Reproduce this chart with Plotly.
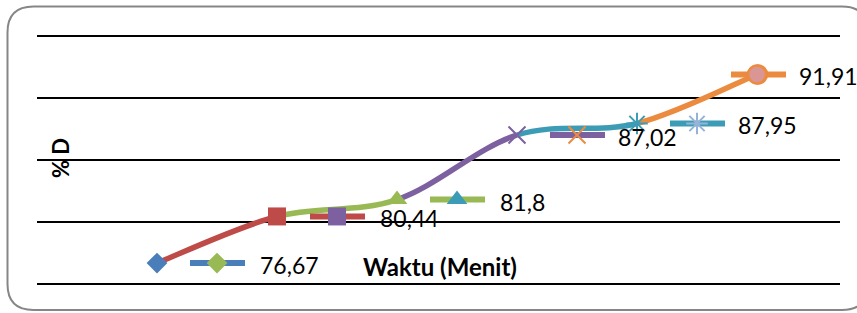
import plotly.graph_objects as go

# ---- data ----
waktu = [1, 2, 3, 4, 5, 6]
persen_d = [76.67, 80.44, 81.8, 87.02, 87.95, 91.91]
label_text = ["76,67", "80,44", "81,8", "87,02", "87,95", "91,91"]
y_ticks = [75, 80, 85, 90, 95]

# ---- styles ----
point_symbols = ["diamond", "square", "triangle-up", "x-thin-open", "asterisk-open", "circle"]
point_colors = ["#4A7EBB", "#BE4B48", "#98B954", "#7D60A0", "#3D9CB5", "#D99694"]
point_sizes = [16, 18, 18, 17, 18, 18]
segment_colors = ["#BE4B48", "#98B954", "#7D60A0", "#3D9CB5", "#EB8B3F"]
key_line_colors = ["#4A7EBB", "#BE4B48", "#98B954", "#7D60A0", "#3D9CB5", "#EB8B3F"]
key_marker_colors = ["#98B954", "#7D60A0", "#3D9CB5", "#EB8B3F", "#95B3D7", "#D99694"]
label_shift_px = [0, 0, 0, 0, 0, -59]
text_shift_px = [101, 101, 101, 99, 99, 40]

W, H = 857, 313
L, R, T, B = 37, 17, 35, 28
Y_RANGE = [74.9, 95.1]
PX_PER_UNIT = 120.0
x_min = waktu[0] - (157 - L) / PX_PER_UNIT
x_max = x_min + (W - L - R) / PX_PER_UNIT

fig = go.Figure()

# smoothed line: Catmull-Rom -> cubic Bezier segments, each coloured separately
n = len(waktu)
shapes = []
for i in range(n - 1):
    p0 = (waktu[max(i - 1, 0)], persen_d[max(i - 1, 0)])
    p1 = (waktu[i], persen_d[i])
    p2 = (waktu[i + 1], persen_d[i + 1])
    p3 = (waktu[min(i + 2, n - 1)], persen_d[min(i + 2, n - 1)])
    c1 = (p1[0] + (p2[0] - p0[0]) / 6, p1[1] + (p2[1] - p0[1]) / 6)
    c2 = (p2[0] - (p3[0] - p1[0]) / 6, p2[1] - (p3[1] - p1[1]) / 6)
    path = f"M {p1[0]},{p1[1]} C {c1[0]},{c1[1]} {c2[0]},{c2[1]} {p2[0]},{p2[1]}"
    shapes.append(dict(type="path", xref="x", yref="y", path=path,
                       line=dict(color=segment_colors[i], width=5.5), layer="between"))

# rounded chart border (pixel positions converted to paper coords)
def px2paper(px, py):
    return (px - L) / (W - L - R), (H - B - py) / (H - T - B)

def P(px, py):
    x, y = px2paper(px, py)
    return f"{x:.5f},{y:.5f}"

bx0, by0, bx1, by1, rad = 7.5, 6.5, 868, 310, 26
border_path = (
    f"M {P(bx0 + rad, by0)} L {P(bx1 - rad, by0)} Q {P(bx1, by0)} {P(bx1, by0 + rad)} "
    f"L {P(bx1, by1 - rad)} Q {P(bx1, by1)} {P(bx1 - rad, by1)} "
    f"L {P(bx0 + rad, by1)} Q {P(bx0, by1)} {P(bx0, by1 - rad)} "
    f"L {P(bx0, by0 + rad)} Q {P(bx0, by0)} {P(bx0 + rad, by0)} Z"
)
shapes.append(dict(type="path", xref="paper", yref="paper", path=border_path,
                   line=dict(color="#868686", width=2), layer="above"))

# data-label legend keys
for i in range(n):
    sh = label_shift_px[i] / PX_PER_UNIT
    fig.add_trace(go.Scatter(
        x=[waktu[i] + 33 / PX_PER_UNIT + sh, waktu[i] + 88 / PX_PER_UNIT + sh],
        y=[persen_d[i], persen_d[i]], mode="lines",
        line=dict(color=key_line_colors[i], width=6), showlegend=False,
        hoverinfo="skip", cliponaxis=False))

key_x = [waktu[i] + (60 + label_shift_px[i]) / PX_PER_UNIT for i in range(n)]
open_w = [0, 0, 0, 2, 2, 2.5]
key_line_c = [key_marker_colors[i] if point_symbols[i].endswith("open") else "#EB8B3F"
              for i in range(n)]
fig.add_trace(go.Scatter(
    x=key_x, y=persen_d, mode="markers", showlegend=False, hoverinfo="skip",
    cliponaxis=False,
    marker=dict(symbol=point_symbols, size=point_sizes, color=key_marker_colors, opacity=1,
                line=dict(color=key_line_c, width=open_w))))

# data points
pt_line_c = [point_colors[i] if point_symbols[i].endswith("open") else "#EB8B3F"
             for i in range(n)]
fig.add_trace(go.Scatter(
    x=waktu, y=persen_d, mode="markers", showlegend=False, cliponaxis=False,
    marker=dict(symbol=point_symbols, size=point_sizes, color=point_colors, opacity=1,
                line=dict(color=pt_line_c, width=open_w))))

annotations = []
for i in range(n):
    annotations.append(dict(
        x=waktu[i], y=persen_d[i], xref="x", yref="y", text=label_text[i],
        showarrow=False, xanchor="left", yanchor="middle",
        xshift=text_shift_px[i], yshift=-2,
        font=dict(family="Lato", size=23, color="#000000")))

ax, ay = px2paper(440, 266)
annotations.append(dict(x=ax, y=ay, xref="paper", yref="paper", text="<b>Waktu (Menit)</b>",
                        showarrow=False, xanchor="center", yanchor="middle",
                        font=dict(family="Lato", size=24, color="#000000")))
tx, ty = px2paper(60, 158)
annotations.append(dict(x=tx, y=ty, xref="paper", yref="paper", text="<b>% D</b>",
                        showarrow=False, xanchor="center", yanchor="middle", textangle=-90,
                        font=dict(family="Lato", size=22, color="#000000")))

fig.update_layout(
    width=W, height=H,
    margin=dict(l=L, r=R, t=T, b=B, pad=0),
    paper_bgcolor="white", plot_bgcolor="white",
    showlegend=False,
    shapes=shapes, annotations=annotations,
    xaxis=dict(range=[x_min, x_max], showgrid=False, zeroline=False, showline=False,
               showticklabels=False, ticks=""),
    yaxis=dict(range=Y_RANGE, tickvals=y_ticks, showgrid=True, gridcolor="#000000",
               gridwidth=2, zeroline=False, showline=False, showticklabels=False, ticks=""),
)

fig.write_html("out.html", config={"displayModeBar": False},
               post_script="document.body.style.margin='0';document.body.style.overflow='hidden';")
